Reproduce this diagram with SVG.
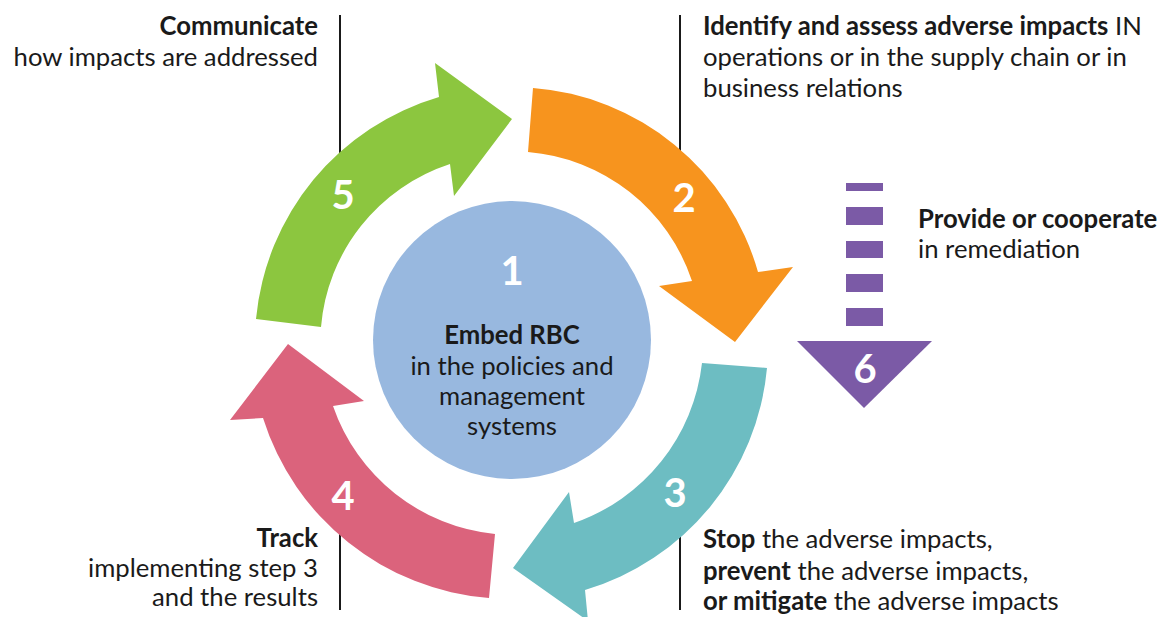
<svg xmlns="http://www.w3.org/2000/svg" width="1160" height="617" viewBox="0 0 1160 617">
<style>
  text { font-family: Lato, "Noto Sans", "Liberation Sans", sans-serif; fill: #1a1a1a; font-size: 25.7px; }
  .b { font-weight: bold; }
  .num { font-weight: bold; fill: #ffffff; font-size: 40px; text-anchor: middle; }
  .r { text-anchor: end; }
  .c { text-anchor: middle; }
  .lead { stroke: #1a1a1a; stroke-width: 2; fill: none; }
</style>
<rect width="1160" height="617" fill="#ffffff"/>
<g id="connectors">
  <line class="lead" x1="340" y1="15" x2="340" y2="165"/>
  <line class="lead" x1="680" y1="15" x2="680" y2="165"/>
  <line class="lead" x1="680" y1="525" x2="680" y2="610"/>
  <line class="lead" x1="340" y1="525" x2="340" y2="610"/>
</g>
<g id="step1">
  <circle cx="512" cy="340" r="139" fill="#98b8df"/>
  <text class="num" x="512" y="285">1</text>
  <text class="c b" x="512" y="344">Embed RBC</text>
  <text class="c" x="512" y="375">in the policies and</text>
  <text class="c" x="512" y="405">management</text>
  <text class="c" x="512" y="435">systems</text>
</g>
<g id="step5">
  <path d="M256,319 A256,256 0 0 1 439,97 L435,63 L512,119 L454,196 L450,164 A188,188 0 0 0 321,327 Z" fill="#8cc63f"/>
  <text class="num" x="343" y="209">5</text>
  <text class="r b" x="318" y="35">Communicate</text>
  <text class="r" x="318" y="66">how impacts are addressed</text>
</g>
<g id="step2">
  <path d="M533,88 A254,254 0 0 1 758,272 L793,267 L735,342 L659,286 L692,281 A189,189 0 0 0 528,152 Z" fill="#f7941e"/>
  <text class="num" x="684" y="212">2</text>
  <text x="703" y="35"><tspan class="b">Identify and assess adverse impacts</tspan> IN</text>
  <text x="703" y="66">operations or in the supply chain or in</text>
  <text x="703" y="97">business relations</text>
</g>
<g id="step3">
  <path d="M767,368 A256,256 0 0 1 585,590 L588,621 L513,568 L569,492 L574,523 A192,192 0 0 0 702,363 Z" fill="#6dbdc2"/>
  <text class="num" x="675" y="507">3</text>
  <text x="703" y="548"><tspan class="b">Stop</tspan> the adverse impacts,</text>
  <text x="703" y="580"><tspan class="b">prevent</tspan> the adverse impacts,</text>
  <text x="703" y="610"><tspan class="b">or mitigate</tspan> the adverse impacts</text>
</g>
<g id="step4">
  <path d="M489,598 A258,258 0 0 1 263,418 L230,420 L288,344 L364,401 L333,406 A191,191 0 0 0 495,534 Z" fill="#db637c"/>
  <text class="num" x="343" y="510">4</text>
  <text class="r b" x="318" y="547">Track</text>
  <text class="r" x="318" y="577">implementing step 3</text>
  <text class="r" x="318" y="606">and the results</text>
</g>
<g id="step6" fill="#7b5aa6">
  <rect x="846" y="183" width="37" height="8"/>
  <rect x="846" y="207" width="37" height="18"/>
  <rect x="846" y="241" width="37" height="17"/>
  <rect x="846" y="274" width="37" height="18"/>
  <rect x="846" y="308" width="37" height="18"/>
  <polygon points="797,341 932,341 864,408"/>
  <text class="num" x="865" y="383">6</text>
  <text class="b" x="918" y="228">Provide or cooperate</text>
  <text x="918" y="258">in remediation</text>
</g>
</svg>
